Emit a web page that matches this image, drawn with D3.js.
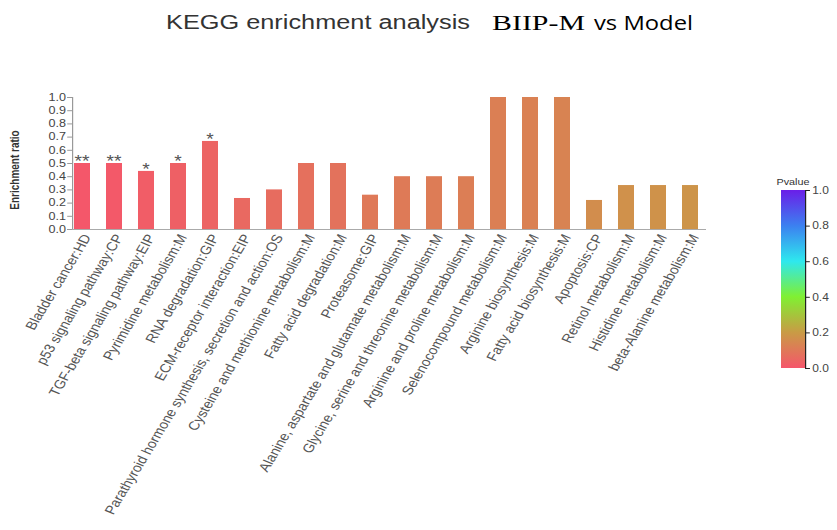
<!DOCTYPE html>
<html>
<head>
<meta charset="utf-8">
<script src="https://cdn.jsdelivr.net/npm/d3@7"></script>
<style>
  body { margin: 0; background: #fff; }
  text { font-family: Arial, "Liberation Sans", sans-serif; }
</style>
</head>
<body>
<div id="chart"></div>
<script>
var width = 837,
    height = 530,
    sx = 1.2;   // the picture is drawn a little wider than tall

var pathways = ["Bladder cancer:HD", "p53 signaling pathway:CP", "TGF-beta signaling pathway:EIP",
    "Pyrimidine metabolism:M", "RNA degradation:GIP", "ECM-receptor interaction:EIP",
    "Parathyroid hormone synthesis, secretion and action:OS", "Cysteine and methionine metabolism:M",
    "Fatty acid degradation:M", "Proteasome:GIP", "Alanine, aspartate and glutamate metabolism:M",
    "Glycine, serine and threonine metabolism:M", "Arginine and proline metabolism:M",
    "Selenocompound metabolism:M", "Arginine biosynthesis:M", "Fatty acid biosynthesis:M",
    "Apoptosis:CP", "Retinol metabolism:M", "Histidine metabolism:M", "beta-Alanine metabolism:M"];
var ratios = [0.5, 0.5, 0.44, 0.5, 0.667, 0.235, 0.3, 0.5, 0.5, 0.26, 0.4, 0.4, 0.4, 1, 1, 1, 0.22, 0.333, 0.333, 0.333];
var pvalues = [0.004, 0.008, 0.02, 0.03, 0.04, 0.055, 0.065, 0.075, 0.08, 0.1, 0.105, 0.11, 0.115, 0.12, 0.125, 0.13, 0.16, 0.17, 0.175, 0.18];
var stars = ["**", "**", "*", "*", "*", "", "", "", "", "", "", "", "", "", "", "", "", "", "", ""];

var legendStops = [0, 0.2, 0.4, 0.6, 0.8, 1.0];
var legendColors = ["#f5566b", "#c99b45", "#80f032", "#2ee8ee", "#3c80f0", "#6a1ee8"];

var color = d3.scaleLinear().domain(legendStops).range(legendColors);

var svg = d3.select("#chart").append("svg")
    .attr("width", width)
    .attr("height", height);

var root = svg.append("g").attr("transform", "scale(" + sx + ",1)");

// title
root.append("text")
    .attr("x", 166 / sx).attr("y", 29)
    .attr("textLength", 304 / sx).attr("lengthAdjust", "spacingAndGlyphs")
    .style("font-size", "21px").style("fill", "#333")
    .text("KEGG enrichment analysis");
root.append("text")
    .attr("x", 492 / sx).attr("y", 30)
    .attr("textLength", 93 / sx).attr("lengthAdjust", "spacingAndGlyphs")
    .style("font-family", "'Liberation Serif', 'Times New Roman', serif")
    .style("font-size", "21px").style("fill", "#000").text("BIIP-M");
root.append("text")
    .attr("x", 594 / sx).attr("y", 30)
    .attr("textLength", 99 / sx).attr("lengthAdjust", "spacingAndGlyphs")
    .style("font-family", "'Open Sans', sans-serif")
    .style("font-size", "20px").style("fill", "#000").text("vs Model");

var x = d3.scaleBand()
    .domain(pathways)
    .range([66 / sx, 706 / sx])
    .paddingInner(0.5)
    .paddingOuter(0.25);

var y = d3.scaleLinear().domain([0, 1]).range([229, 97]);

var g = root.append("g");

// y axis
var yAxis = g.append("g")
    .attr("transform", "translate(" + (72 / sx) + ",0)")
    .call(d3.axisLeft(y).tickValues(d3.range(0, 1.01, 0.1)).tickFormat(d3.format(".1f")).tickSize(4));
yAxis.select(".domain").attr("stroke", "#999");
yAxis.selectAll(".tick line").attr("stroke", "#999");
yAxis.selectAll(".tick text").style("font-size", "10.5px").style("fill", "#444").attr("x", -5);

root.append("text")
    .attr("transform", "translate(" + (19 / sx) + ",170)rotate(-90)")
    .attr("text-anchor", "middle")
    .style("font-size", "10px").style("font-weight", "bold").style("fill", "#333")
    .text("Enrichment ratio");

// x axis
var xAxis = g.append("g")
    .attr("transform", "translate(0,229)")
    .call(d3.axisBottom(x).tickSize(0).tickSizeOuter(0));
xAxis.select(".domain").attr("stroke", "#aaa").attr("d", "M" + (72 / sx) + ",0.5H" + (706 / sx));
xAxis.selectAll(".tick text")
    .style("font-size", "12.5px").style("fill", "#555")
    .attr("text-anchor", "end")
    .attr("transform", "translate(4,6)rotate(-63)")
    .attr("dy", "0.35em").attr("y", 0).attr("x", 0);

// bars
g.selectAll(".bar")
    .data(pathways)
    .enter().append("rect")
    .attr("class", "bar")
    .attr("x", function (d) { return x(d); })
    .attr("width", x.bandwidth())
    .attr("y", function (d, i) { return y(ratios[i]); })
    .attr("height", function (d, i) { return y(0) - y(ratios[i]); })
    .attr("fill", function (d, i) { return color(pvalues[i]); });

g.selectAll(".star")
    .data(pathways)
    .enter().append("text")
    .attr("class", "star")
    .attr("x", function (d) { return x(d) + x.bandwidth() / 2; })
    .attr("y", function (d, i) { return y(ratios[i]) + 4; })
    .attr("text-anchor", "middle")
    .style("font-size", "16px").style("fill", "#555")
    .text(function (d, i) { return stars[i]; });

// legend
var defs = svg.append("defs");
var grad = defs.append("linearGradient").attr("id", "pgrad")
    .attr("x1", "0").attr("y1", "1").attr("x2", "0").attr("y2", "0");
legendStops.forEach(function (s, i) {
    grad.append("stop").attr("offset", s).attr("stop-color", legendColors[i]);
});

var ly = d3.scaleLinear().domain([0, 1]).range([368, 190]);
root.append("rect")
    .attr("x", 781 / sx).attr("y", ly(1))
    .attr("width", 24 / sx).attr("height", ly(0) - ly(1))
    .attr("fill", "url(#pgrad)");

var lAxis = root.append("g")
    .attr("transform", "translate(" + (805 / sx) + ",0)")
    .call(d3.axisRight(ly).tickValues(legendStops).tickFormat(d3.format(".1f")).tickSize(4));
lAxis.select(".domain").attr("stroke", "#222");
lAxis.selectAll(".tick line").attr("stroke", "#222");
lAxis.selectAll(".tick text").style("font-size", "10px").style("fill", "#444").attr("x", 6);

root.append("text")
    .attr("x", 793 / sx).attr("y", 185)
    .attr("text-anchor", "middle")
    .style("font-size", "9px").style("fill", "#333")
    .text("Pvalue");
</script>
</body>
</html>
